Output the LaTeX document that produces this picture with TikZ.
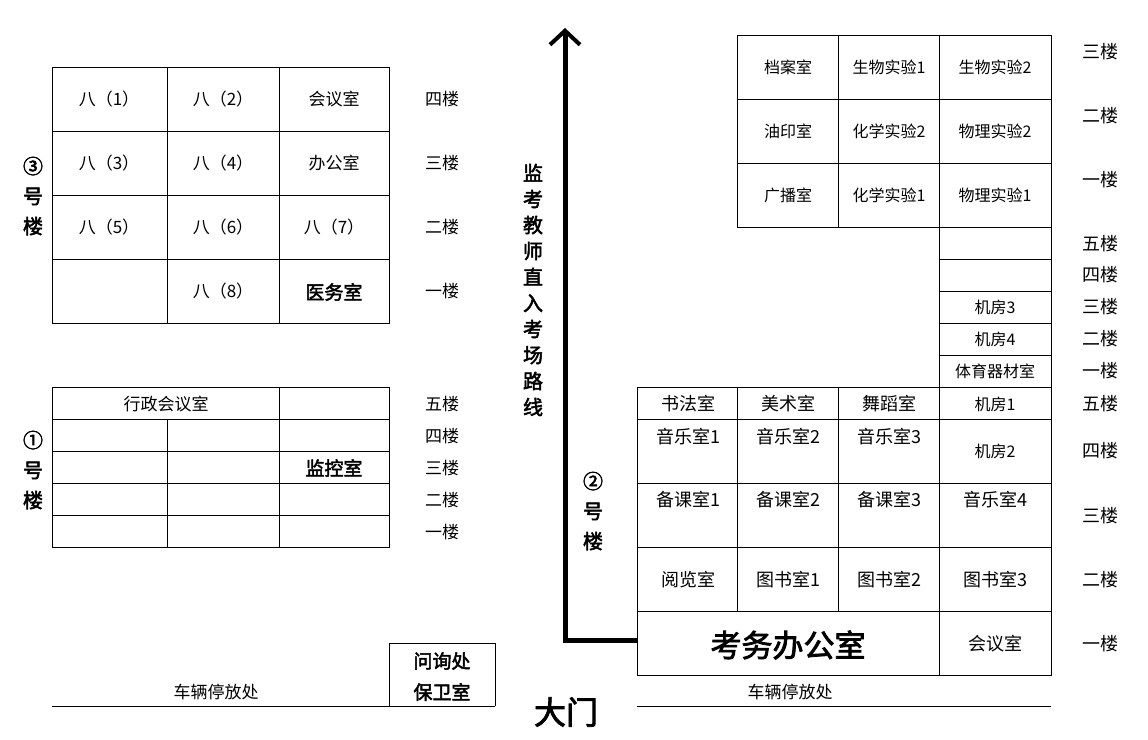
\documentclass[tikz,border=0pt]{standalone}
\usepackage{fontspec}
\usetikzlibrary{arrows.meta}
\setmainfont{Noto Sans CJK SC}
\newfontfamily\cjkb[FakeBold=2.5]{Noto Sans CJK SC}
\begin{document}
\begin{tikzpicture}[x=1pt,y=-1pt,
  t/.style={font=\fontsize{17}{17}\selectfont,inner sep=0},
  b/.style={font=\fontsize{19}{19}\selectfont\cjkb,inner sep=0},
  v/.style={align=center,font=\fontsize{20}{30}\selectfont\cjkb,inner sep=0},
  g/.style={line width=0.8pt}]
\useasboundingbox (0,0) rectangle (1148,739);
% building 3
\draw[g] (52,67) rectangle (389,323);
\foreach \y in {131,195,259} \draw[g] (52,\y)--(389,\y);
\foreach \x in {167,279} \draw[g] (\x,67)--(\x,323);
\foreach \txt/\x/\y in {八（1）/109/99,八（2）/223/99,会议室/334/99,八（3）/109/163,八（4）/223/163,办公室/334/163,八（5）/109/227,八（6）/223/227,八（7）/334/227,八（8）/223/291}
  \node[t] (n\x\y) at (\x,\y) {\txt};
\node[b] (ywk) at (334,292) {医务室};
\foreach \txt/\y [count=\i] in {四楼/99,三楼/163,二楼/227,一楼/291}
  \node[t] (f3\i) at (442,\y) {\txt};
\node[v] (b3) at (33,196) {③\\号\\楼};
% building 1
\draw[g] (52,387) rectangle (389,547);
\foreach \y in {419,451,483,515} \draw[g] (52,\y)--(389,\y);
\draw[g] (167,419)--(167,547);
\draw[g] (279,387)--(279,547);
\node[t] (xz) at (166,404) {行政会议室};
\node[b] (jk) at (334,468) {监控室};
\foreach \txt/\y [count=\i] in {五楼/404,四楼/436,三楼/468,二楼/500,一楼/532}
  \node[t] (f1\i) at (442,\y) {\txt};
\node[v] (b1) at (33,470) {①\\号\\楼};
% route
\coordinate (r0) at (637,640);
\coordinate (r1) at (565,640);
\coordinate (r2) at (565,28);
\draw[line width=5pt,line join=miter,-{Straight Barb[length=14pt,width=30pt,line width=4pt]}] (r0)--(r1)--(r2);
\node[v,font=\fontsize{20}{26}\selectfont\cjkb] (route) at (533,290) {监\\考\\教\\师\\直\\入\\考\\场\\路\\线};
\node[v] (b2) at (593,511) {②\\号\\楼};
% building 2 top
\draw[g] (737,35) rectangle (1051,227);
\foreach \y in {99,163} \draw[g] (737,\y)--(1051,\y);
\foreach \x in {838,939} \draw[g] (\x,35)--(\x,227);
\foreach \txt/\x/\y in {档案室/788/67,生物实验1/889/67,生物实验2/995/67,油印室/788/131,化学实验2/889/131,物理实验2/995/131,广播室/788/195,化学实验1/889/195,物理实验1/995/195}
  \node[t,font=\fontsize{16}{16}\selectfont] (m\x\y) at (\x,\y) {\txt};
\draw[g] (939,227) rectangle (1051,387);
\foreach \y in {259,291,323,355} \draw[g] (939,\y)--(1051,\y);
\node[t,font=\fontsize{16}{16}\selectfont] (jf3) at (995,307) {机房3};
\node[t,font=\fontsize{16}{16}\selectfont] (jf4) at (995,339) {机房4};
\node[t,font=\fontsize{16}{16}\selectfont] (tyq) at (995,371) {体育器材室};
% lower
\draw[g] (637,387) rectangle (1051,675);
\foreach \y in {419,483,547,611} \draw[g] (637,\y)--(1051,\y);
\foreach \x in {737,838} \draw[g] (\x,387)--(\x,611);
\draw[g] (939,387)--(939,675);
\foreach \txt/\x/\y in {书法室/688/404,美术室/788/404,舞蹈室/889/404,音乐室1/688/437,音乐室2/788/437,音乐室3/889/437,备课室1/688/500,备课室2/788/500,备课室3/889/500,音乐室4/995/500,阅览室/688/580,图书室1/788/580,图书室2/889/580,图书室3/995/580}
  \node[t,font=\fontsize{18}{18}\selectfont] (l\x\y) at (\x,\y) {\txt};
\node[t,font=\fontsize{16}{16}\selectfont] (jf1) at (995,404) {机房1};
\node[t,font=\fontsize{16}{16}\selectfont] (jf2) at (995,451) {机房2};
\node[t,font=\fontsize{18}{18}\selectfont] (hys) at (995,644) {会议室};
\node[b,font=\fontsize{31}{31}\selectfont\cjkb] (kw) at (788,645) {考务办公室};
\foreach \txt/\y [count=\i] in {三楼/52,二楼/116,一楼/180,五楼/244,四楼/275,三楼/307,二楼/339,一楼/371,五楼/404,四楼/451,三楼/516,二楼/580,一楼/644}
  \node[t,font=\fontsize{18}{18}\selectfont] (f2\i) at (1100,\y) {\txt};
% bottom
\draw[g] (52,706)--(495,706);
\draw[g] (637,706)--(1051,706);
\draw[g] (389,706)--(389,643)--(495,643)--(495,706);
\node[b] (wx) at (442,661) {问询处};
\node[b] (bw) at (442,692) {保卫室};
\node[t] (cl1) at (216,692) {车辆停放处};
\node[t] (cl2) at (790,692) {车辆停放处};
\node[b,font=\fontsize{32}{32}\selectfont\cjkb] (dm) at (566,712) {大门};
\end{tikzpicture}
\end{document}
